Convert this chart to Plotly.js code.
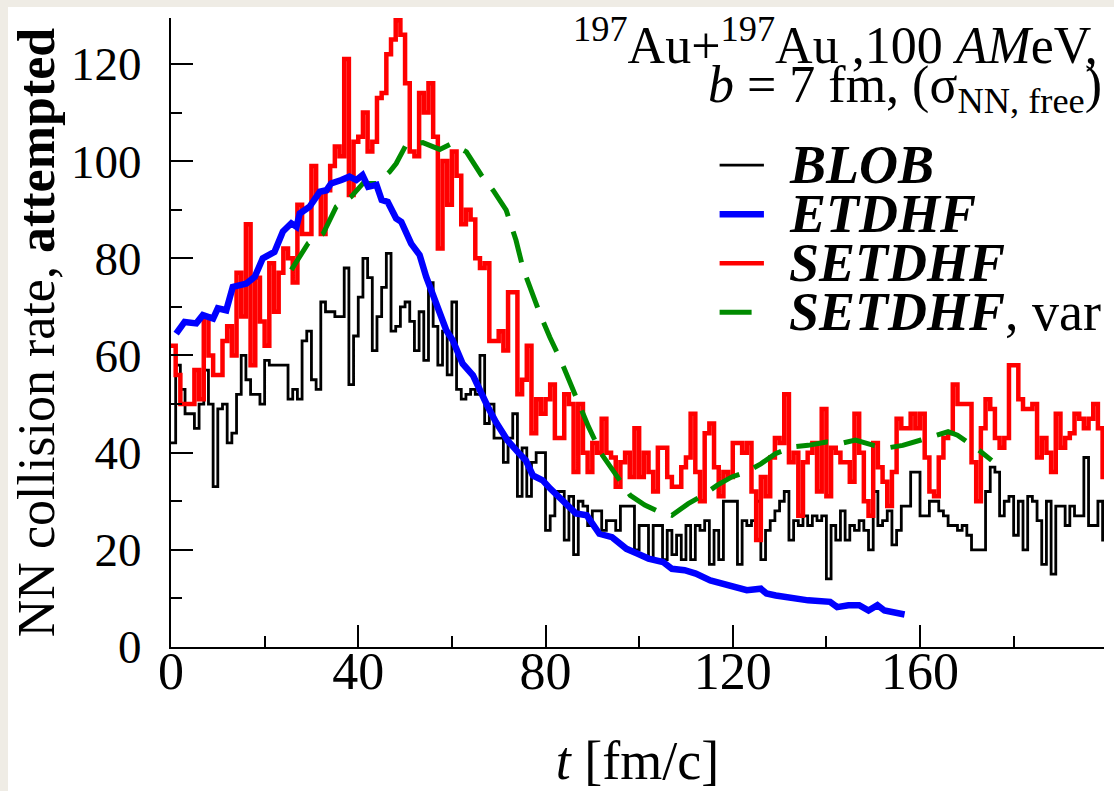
<!DOCTYPE html>
<html><head><meta charset="utf-8">
<script src="https://cdn.plot.ly/plotly-3.0.1.min.js"></script>
<style>
html,body{margin:0;padding:0;background:#efece5;width:1114px;height:791px;overflow:hidden}
#chart{position:absolute;left:8px;top:7px;width:1106px;height:784px;background:#fff}
</style>
</head><body><div id="chart"></div>
<script>
// BLOB histogram, one value per 1 fm/c bin starting at t = 0
const blob = [42,58,53,48,48,45,50,57,50,33, 49,50,42,44,52,60,55,52,52,50,
  59,58,58,58,58,51,53,51,63,65, 55,53,71,69,69,68,68,78,54,64,
  72,80,76,61,68,74,81,65,66,70, 71,67,61,69,59,75,66,58,65,56,
  71,53,51,52,53,52,60,46,50,43, 43,38,43,48,31,41,31,38,40,40,
  24,27,32,32,22,31,19,30,29,25, 28,28,24,26,26,24,29,29,29,20,
  25,25,18,25,25,18,24,19,23,18, 25,18,25,24,26,17,24,18,30,30,
  30,17,26,25,26,30,18,24,26,28, 30,32,22,26,25,27,25,27,26,27,
  14,25,22,28,22,25,24,26,24,20, 32,25,26,28,21,24,29,29,36,36,
  27,27,30,30,28,27,25,25,24,25, 23,20,20,20,32,37,36,27,30,31,
  23,30,20,31,30,26,17,30,15,29, 29,25,29,27,27,39,25,25,30,22];
// SETDHF histogram, one value per 1 fm/c bin starting at t = 0
const setdhf = [62,56,50,50,50,57,51,68,60,56, 56,63,66,60,77,68,87,58,76,67,
  62,79,69,77,82,80,75,91,85,85, 99,93,85,94,99,103,101,121,93,104,
  105,110,102,104,113,114,122,125,129,126, 116,102,101,114,110,116,105,82,100,91,
  102,97,87,90,88,80,78,79,63,63, 65,61,73,73,52,55,62,44,51,48,
  51,54,43,43,52,50,36,50,40,36, 42,40,47,40,39,33,38,40,35,45,
  35,40,36,32,41,41,35,33,33,37, 39,48,36,30,44,46,37,31,36,35,
  42,42,40,42,32,22,35,31,39,43, 42,52,38,40,27,38,40,42,32,49,
  31,41,40,38,38,34,48,40,30,27, 42,37,34,29,36,47,45,45,48,45,
  48,39,32,31,39,43,44,54,50,50, 50,38,30,45,51,49,43,41,43,58,
  58,51,49,49,50,39,43,40,36,48, 41,43,44,48,47,45,47,50,45,35];
// ETDHF curve (t, rate)
const etdhfT = [1.1,2.9,5.4,6.8,9.0,10,11.8,13.2,16.1,17.9,19.6,22.1,23.9,25.7,26.8,27.5,29.6,31.8,33.2,34.2,
  36.4,38.1,39.6,40.9,42.1,43.9,45,46.3,48.1,49.2,51.3,53.1,54.5,56.6,58.8,60.2,62.3,64.5,65.9,67.7,
  69.4,71.9,74.1,75.8,77.3,79.4,81,83.4,86.5,88.8,91.5,94.2,97.3,99.7,102,105.1,107,109.7,112.1,115.2,
  119.1,123,126,127.2,129.2,133,136.1,140.8,142.3,144.7,147,149,150.9,152.4,154.8,156.7];
const etdhfV = [64.5,66.9,66.6,68.3,67.6,69.7,69.3,74.1,74.8,76.2,80,81.3,85.5,87.2,86.5,89.2,90.6,93.7,94,95.4,
  96.1,96.8,96.1,97.1,94.7,95.1,92,91.6,88.2,87.5,83,80.7,76.2,70.7,65.2,63.1,58.3,55.9,52.8,49.4,
  46.3,42.5,40.1,38.4,35.3,34.3,32.6,30.2,27.5,27.1,23.3,22.6,20.2,19.2,18.2,17.5,16.1,15.8,15.1,13.7,
  12.7,11.7,12,11,10.6,9.9,9.6,9.3,8.2,8.6,8.6,7.5,8.6,7.5,7.2,6.7];
// SETDHF, var curve (t, rate)
const varT = [25.7,29.3,32.5,35.3,38.5,41,43.9,46.7,48.1,50.2,53.8,57.4,59.9,63.1,66.3,68.8,71.6,73.7,75.2,76.6,
  78.8,80.9,83.4,86.5,89.2,91.9,94.2,98.1,101.2,104.3,107,110.5,113.6,116.7,119.8,122.9,126,129.1,133,136.1,
  140,143.1,146.2,150.1,153.2,156.3,160.2,163.3,166,168,170.3,172.6,175.3];
const varV = [77.6,83.1,85.1,90.6,92.7,95.4,95.4,97.8,99.5,103.3,103.8,102.4,103.6,101.9,97.1,94,89.9,83.7,77.9,74.1,
  68.6,63.8,58.7,51.5,45.3,39.8,36.7,31.2,29.2,27.8,27.1,29.5,31.2,33.3,35,36,37.7,39.8,41.2,41.5,
  42.2,41.9,42.6,41.5,41,41.5,42.6,43.6,44.3,43.6,42.2,40.5,38.4];

const legendNames = ['<b><i>BLOB</i></b>','<b><i>ETDHF</i></b>','<b><i>SETDHF</i></b>','<b><i>SETDHF</i></b>, var'];
const legendColors = ['#000000','#0000ff','#ff0000','#008b00'];
const legendWidths = [2.8,6.5,4.5,5];
const legendDash = ['solid','solid','solid','32px,16px'];

const binWidth = 1;
function stepXY(vals){
  const x = vals.map((v,i)=>i*binWidth);
  const y = vals.slice();
  x.push(vals.length*binWidth); y.push(vals[vals.length-1]);
  return {x, y};
}
const b = stepXY(blob), s = stepXY(setdhf);
const FONT = '"Liberation Serif", "Times New Roman", serif';

const traces = [
  {x:b.x, y:b.y, mode:'lines', line:{shape:'hv', color:legendColors[0], width:legendWidths[0]}, name:'BLOB', showlegend:false},
  {x:s.x, y:s.y, mode:'lines', line:{shape:'hv', color:legendColors[2], width:legendWidths[2]}, name:'SETDHF', showlegend:false},
  {x:varT, y:varV, mode:'lines', line:{color:legendColors[3], width:legendWidths[3], dash:legendDash[3]}, name:'SETDHF, var', showlegend:false},
  {x:etdhfT, y:etdhfV, mode:'lines', line:{color:legendColors[1], width:legendWidths[1]}, name:'ETDHF', showlegend:false}
];

// legend drawn manually (paper coordinates)
const rowY = [0.766,0.688,0.610,0.532];
const shapes = [], annotations = [];
legendNames.forEach((n,i)=>{
  shapes.push({type:'line', xref:'paper', yref:'paper', x0:0.588, x1:0.6355, y0:rowY[i], y1:rowY[i],
    line:{color:legendColors[i], width:legendWidths[i], dash:legendDash[i]}});
  annotations.push({xref:'paper', yref:'paper', x:0.6597, y:rowY[i], xanchor:'left', yanchor:'middle',
    text:n, showarrow:false, font:{family:FONT, size:54, color:'#000'}});
});
annotations.push({xref:'paper', yref:'paper', x:0.996, y:0.962, xanchor:'right', yanchor:'middle', showarrow:false,
  text:'<sup>197</sup>Au+<sup>197</sup>Au ,100 <i>AM</i>eV,', font:{family:FONT, size:52, color:'#000'}});
annotations.push({xref:'paper', yref:'paper', x:1.0, y:0.888, xanchor:'right', yanchor:'middle', showarrow:false,
  text:'<i>b</i> = 7 fm, (σ<sub>NN, free</sub>)', font:{family:FONT, size:52, color:'#000'}});

const layout = {
  width:1106, height:784,
  margin:{l:163.3, r:9.5, t:11, b:144.4},
  paper_bgcolor:'#ffffff', plot_bgcolor:'#ffffff',
  showlegend:false,
  font:{family:FONT, color:'#000'},
  xaxis:{range:[0,199.3], showgrid:false, zeroline:false, showline:true, linecolor:'#000', linewidth:2,
    ticks:'inside', ticklen:22, tickwidth:2, tickcolor:'#000', dtick:40, tick0:0,
    minor:{dtick:20, ticks:'inside', ticklen:11, tickwidth:2, tickcolor:'#000'},
    tickfont:{family:FONT, size:52}, ticklabelstandoff:-22,
    title:{text:'<i>t</i> [fm/c]', font:{family:FONT, size:54}, standoff:47}},
  yaxis:{range:[0,129.45], showgrid:false, zeroline:false, showline:true, linecolor:'#000', linewidth:2,
    ticks:'inside', ticklen:22, tickwidth:2, tickcolor:'#000', dtick:20, tick0:0,
    minor:{dtick:10, ticks:'inside', ticklen:11, tickwidth:2, tickcolor:'#000'},
    tickfont:{family:FONT, size:47}, ticklabelstandoff:18,
    title:{text:'NN collision rate, <b>attempted</b>', font:{family:FONT, size:52}, standoff:12}},
  shapes:shapes, annotations:annotations
};
Plotly.newPlot('chart', traces, layout, {displayModeBar:false, staticPlot:true});
</script>
</body></html>
